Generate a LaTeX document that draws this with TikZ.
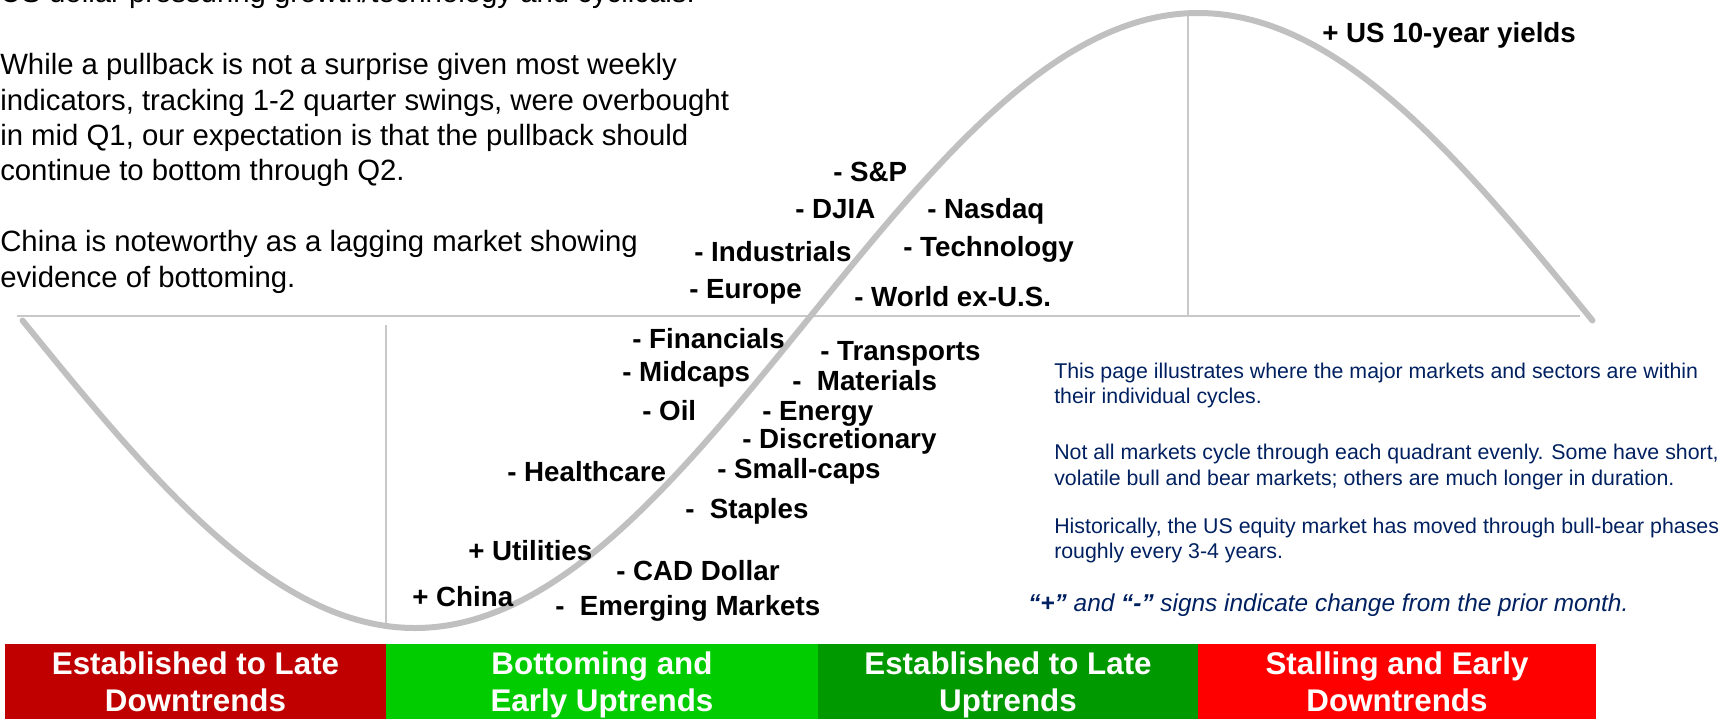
\documentclass[tikz,border=0pt]{standalone}
\usepackage{fontspec}
\setmainfont{Liberation Sans}
\definecolor{navy}{RGB}{0,32,96}
\definecolor{curvegray}{RGB}{192,192,192}
\definecolor{axisgray}{RGB}{200,200,200}
\definecolor{dred}{RGB}{192,0,0}
\definecolor{lgreen}{RGB}{0,204,0}
\definecolor{dgreen}{RGB}{0,153,0}
\definecolor{bred}{RGB}{255,0,0}
\begin{document}
\begin{tikzpicture}[x=0.75pt,y=-0.75pt,
  lbl/.style={anchor=base west, inner sep=0pt, font=\fontsize{20.8}{24}\selectfont\bfseries},
  para/.style={anchor=base west, inner sep=0pt, font=\fontsize{22}{26}\selectfont},
  note/.style={anchor=base west, inner sep=0pt, text=navy, font=\fontsize{16}{19}\selectfont},
  bartxt/.style={anchor=base, inner sep=0pt, text=white, font=\fontsize{23.5}{27}\selectfont\bfseries},
  guide/.style={draw=axisgray, line width=1pt},
  wave/.style={draw=curvegray, line width=4.5pt, line cap=round}]
\useasboundingbox (0,0) rectangle (1725,719);

% guide lines
\draw[guide] (17,316) -- (1580,316);
\draw[guide] (386,325) -- (386,625);
\draw[guide] (1188,16) -- (1188,316);

% cycle curve
\draw[wave] (22.5,320.5) sin (415,628) cos (807,320.5) sin (1198,13) cos (1592.5,320.5);

% phase bars
\fill[dred]   (5,644) rectangle (386,719);
\fill[lgreen] (386,644) rectangle (818,719);
\fill[dgreen] (818,644) rectangle (1198,719);
\fill[bred]   (1198,644) rectangle (1596,719);

\node[bartxt] (b1a) at (195.5,674.5) {Established to Late};
\node[bartxt] (b1b) at (195.5,711) {Downtrends};
\node[bartxt] (b2a) at (602,674.5) {Bottoming and};
\node[bartxt] (b2b) at (602,711) {Early Uptrends};
\node[bartxt] (b3a) at (1008,674.5) {Established to Late};
\node[bartxt] (b3b) at (1008,711) {Uptrends};
\node[bartxt] (b4a) at (1397,674.5) {Stalling and Early};
\node[bartxt] (b4b) at (1397,711) {Downtrends};

% left paragraph
\node[para] (p0) at (0,2) {US dollar pressuring growth/technology and cyclicals.};
\node[para] (p1) at (0,74) {While a pullback is not a surprise given most weekly};
\node[para] (p2) at (0,110) {indicators, tracking 1-2 quarter swings, were overbought};
\node[para] (p3) at (0,145) {in mid Q1, our expectation is that the pullback should};
\node[para] (p4) at (0,180) {continue to bottom through Q2.};
\node[para] (p5) at (0,251) {China is noteworthy as a lagging market showing};
\node[para] (p6) at (0,287) {evidence of bottoming.};

% market labels
\node[lbl] (us10) at (1322,42) {+ US 10-year yields};
\node[lbl] (sp) at (833,181.5) {- S\&P};
\node[lbl] (djia) at (795,218) {- DJIA};
\node[lbl] (nasdaq) at (927,218) {- Nasdaq};
\node[lbl] (indus) at (694,261.5) {- Industrials};
\node[lbl] (tech) at (903,256.5) {- Technology};
\node[lbl] (europe) at (689,298) {- Europe};
\node[lbl] (world) at (854,306.5) {- World ex-U.S.};
\node[lbl] (fin) at (632,348) {- Financials};
\node[lbl] (trans) at (820,360) {- Transports};
\node[lbl] (mid) at (622,381.5) {- Midcaps};
\node[lbl] (mat) at (792,390) {-\ \ Materials};
\node[lbl] (oil) at (642,420) {- Oil};
\node[lbl] (energy) at (762,420) {- Energy};
\node[lbl] (disc) at (742,448) {- Discretionary};
\node[lbl] (health) at (507,481.5) {- Healthcare};
\node[lbl] (small) at (717,478) {- Small-caps};
\node[lbl] (staples) at (685,518) {-\ \ Staples};
\node[lbl] (util) at (468,560) {+ Utilities};
\node[lbl] (cad) at (616,580) {- CAD Dollar};
\node[lbl] (china) at (412,606.5) {+ China};
\node[lbl] (em) at (555,615) {-\ \ Emerging Markets};

% right notes
\node[note] (n1) at (1054,378) {This page illustrates where the major markets and sectors are within};
\node[note] (n2) at (1054,403) {their individual cycles.};
\node[note] (n3) at (1054,459) {Not all markets cycle through each quadrant evenly. Some have short,};
\node[note] (n4) at (1054,485) {volatile bull and bear markets; others are much longer in duration.};
\node[note] (n5) at (1054,533) {Historically, the US equity market has moved through bull-bear phases};
\node[note] (n6) at (1054,558) {roughly every 3-4 years.};
\node[note, font=\fontsize{18.3}{22}\selectfont\itshape] (n7) at (1028,611)
  {{\bfseries “+”} and {\bfseries “-”} signs indicate change from the prior month.};
\end{tikzpicture}
\end{document}
